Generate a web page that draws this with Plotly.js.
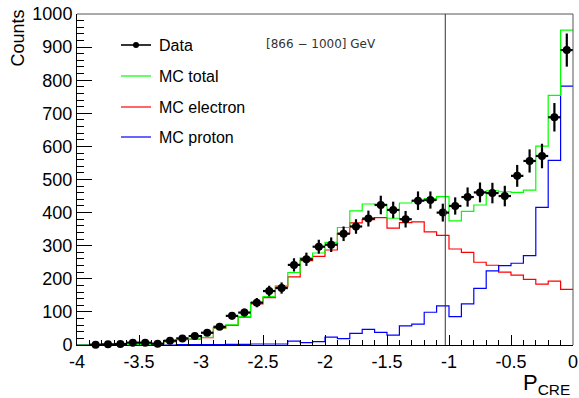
<!DOCTYPE html>
<html>
<head>
<meta charset="utf-8">
<script src="https://cdn.plot.ly/plotly-3.0.1.min.js"></script>
<style>
  html, body { margin: 0; padding: 0; background: #fff; }
  #chart { width: 579px; height: 398px; }
</style>
</head>
<body>
<div id="chart"></div>
<script>
// Bin centres of the P_CRE histogram (bin width 0.1)
const binCenters = [-3.95, -3.85, -3.75, -3.65, -3.55, -3.45, -3.35, -3.25, -3.15, -3.05,
                    -2.95, -2.85, -2.75, -2.65, -2.55, -2.45, -2.35, -2.25, -2.15, -2.05,
                    -1.95, -1.85, -1.75, -1.65, -1.55, -1.45, -1.35, -1.25, -1.15, -1.05,
                    -0.95, -0.85, -0.75, -0.65, -0.55, -0.45, -0.35, -0.25, -0.15, -0.05];

// Flight data and its uncertainties
const dataCounts = [null, 1, 2, 3, 7, 7, 4, 13, 20, 27,
                    37, 55, 88, 98, 128, 163, 172, 242, 259, 297,
                    303, 336, 358, 382, 423, 408, 380, 436, 438, 400,
                    420, 447, 461, 459, 450, 511, 556, 571, 688, 891];
const dataErrors = [null, 2, 3, 3, 4, 4, 3, 5, 6, 7,
                    8, 9, 11, 12, 14, 16, 17, 20, 20, 21,
                    22, 22, 22, 24, 28, 25, 25, 28, 26, 27,
                    26, 29, 30, 31, 31, 33, 35, 37, 43, 50];

// Simulated templates
const mcTotal = [0, 0, 0.5, 1, 1, 2, 3, 10, 17, 18,
                 23, 52, 61, 86, 127, 146, 179, 219, 263, 278,
                 310, 355, 405, 426, 425, 383, 429, 436, 442, 448,
                 375, 404, 423, 466, 463, 461, 468, 601, 754, 951];
const mcElectron = [0, 0, 0.5, 1, 1, 2, 3, 10, 16, 17,
                    22, 51, 59, 84, 124, 143, 176, 206, 255, 268,
                    287, 337, 369, 379, 385, 353, 370, 372, 342, 331,
                    290, 280, 250, 241, 220, 211, 198, 184, 193, 168];
const mcProton = [0, 0, 0, 0, 0, 0, 0, 0, 1, 1,
                  1, 1, 2, 2, 3, 3, 3, 12, 7, 10,
                  24, 19, 35, 47, 38, 30, 58, 63, 99, 118,
                  86, 124, 171, 224, 240, 247, 270, 416, 558, 782];

const cutValue = -1.03;
const energyLabel = '[866 \u2212 1000] GeV';

const xTickVals = [-4, -3.5, -3, -2.5, -2, -1.5, -1, -0.5, 0];
const xTickText = ['-4', '-3.5', '-3', '-2.5', '-2', '-1.5', '-1', '-0.5', '0'];

const legendNames = ['Data', 'MC total', 'MC electron', 'MC proton'];
const legendColors = ['#000000', '#00ff00', '#ff0000', '#0000ff'];

// Step outline helpers: left bin edges plus the closing edge
const halfWidth = 0.05;
const edges = binCenters.map(c => +(c - halfWidth).toFixed(2))
  .concat([+(binCenters[binCenters.length - 1] + halfWidth).toFixed(2)]);
const stepY = vals => vals.concat([vals[vals.length - 1]]);

function stepTrace(vals, color) {
  return {
    type: 'scatter', mode: 'lines',
    x: edges, y: stepY(vals),
    line: { shape: 'hv', color: color, width: 1.2 },
    hoverinfo: 'skip'
  };
}

const traces = [
  stepTrace(mcElectron, '#ff0000'),
  stepTrace(mcProton, '#0000ff'),
  stepTrace(mcTotal, '#00ff00'),
  {
    type: 'scatter', mode: 'markers',
    x: binCenters, y: dataCounts,
    marker: { color: '#000', size: 8, symbol: 'circle' },
    error_y: { type: 'data', array: dataErrors, visible: true, color: '#000', thickness: 2.2, width: 0 },
    error_x: { type: 'constant', value: halfWidth, visible: true, color: '#000', thickness: 2.2, width: 0 },
    cliponaxis: false
  }
];

// Plot area geometry in pixels (used to place the hand-drawn legend)
const W = 579, H = 398;
const M = { l: 77, r: 6, t: 14, b: 53 };
const PW = W - M.l - M.r, PH = H - M.t - M.b;
const px = p => (p - M.l) / PW;
const py = p => (H - M.b - p) / PH;

const legendRows = [45, 76, 107, 137];
const shapes = [
  // top and right frame
  { type: 'line', xref: 'paper', yref: 'paper', x0: 0, x1: 1, y0: 1, y1: 1, line: { color: '#555', width: 1 } },
  { type: 'line', xref: 'paper', yref: 'paper', x0: 1, x1: 1, y0: 0, y1: 1, line: { color: '#555', width: 1 } },
  // selection cut
  { type: 'line', xref: 'x', yref: 'paper', x0: cutValue, x1: cutValue, y0: 0, y1: 1, line: { color: '#333', width: 1 } }
];
const annotations = [];
legendNames.forEach((name, i) => {
  const yy = py(legendRows[i]);
  shapes.push({ type: 'line', xref: 'paper', yref: 'paper', x0: px(121), x1: px(151), y0: yy, y1: yy,
                line: { color: legendColors[i], width: i === 0 ? 1.6 : 1.2 } });
  annotations.push({ xref: 'paper', yref: 'paper', x: px(157), y: yy, xanchor: 'left', yanchor: 'middle',
                     text: name, showarrow: false, font: { family: 'Liberation Sans, Arial, sans-serif', size: 16, color: '#000' } });
});
shapes.push({ type: 'circle', xref: 'paper', yref: 'paper', fillcolor: '#000', line: { color: '#000', width: 0 },
              x0: px(133), x1: px(139), y0: py(legendRows[0] + 3), y1: py(legendRows[0] - 3) });

annotations.push({ xref: 'paper', yref: 'paper', x: px(321), y: py(44), xanchor: 'center', yanchor: 'middle',
                   text: energyLabel, showarrow: false, font: { family: 'DejaVu Sans, sans-serif', size: 12, color: '#333' } });
annotations.push({ xref: 'paper', yref: 'paper', x: px(18), y: py(8), xanchor: 'center', yanchor: 'top', textangle: -90,
                   text: 'Counts', showarrow: false, font: { family: 'Liberation Sans, Arial, sans-serif', size: 18, color: '#000' } });
annotations.push({ xref: 'paper', yref: 'paper', x: px(572), y: py(384), xanchor: 'right', yanchor: 'middle',
                   text: 'P<sub>CRE</sub>', showarrow: false, font: { family: 'Liberation Sans, Arial, sans-serif', size: 22, color: '#000' } });

const tickFont = { family: 'Liberation Sans, Arial, sans-serif', size: 18, color: '#000' };

const layout = {
  width: W, height: H,
  margin: M,
  paper_bgcolor: '#fff', plot_bgcolor: '#fff',
  showlegend: false,
  xaxis: {
    range: [-4, 0], tickmode: 'array', tickvals: xTickVals, ticktext: xTickText,
    ticks: 'inside', ticklen: 10, tickwidth: 1, tickcolor: '#000',
    minor: { tickmode: 'linear', tick0: -4, dtick: 0.1, ticks: 'inside', ticklen: 5, tickwidth: 1, tickcolor: '#000', showgrid: false },
    showline: true, linecolor: '#000', linewidth: 1, showgrid: false, zeroline: false,
    tickfont: tickFont
  },
  yaxis: {
    range: [0, 1000], tickmode: 'linear', tick0: 0, dtick: 100,
    ticks: 'inside', ticklen: 15, tickwidth: 1, tickcolor: '#000',
    minor: { tickmode: 'linear', tick0: 0, dtick: 20, ticks: 'inside', ticklen: 7, tickwidth: 1, tickcolor: '#000', showgrid: false },
    showline: true, linecolor: '#000', linewidth: 1, showgrid: false, zeroline: false,
    tickfont: tickFont
  },
  shapes: shapes,
  annotations: annotations
};

Plotly.newPlot('chart', traces, layout, { staticPlot: true, displayModeBar: false });
</script>
</body>
</html>
